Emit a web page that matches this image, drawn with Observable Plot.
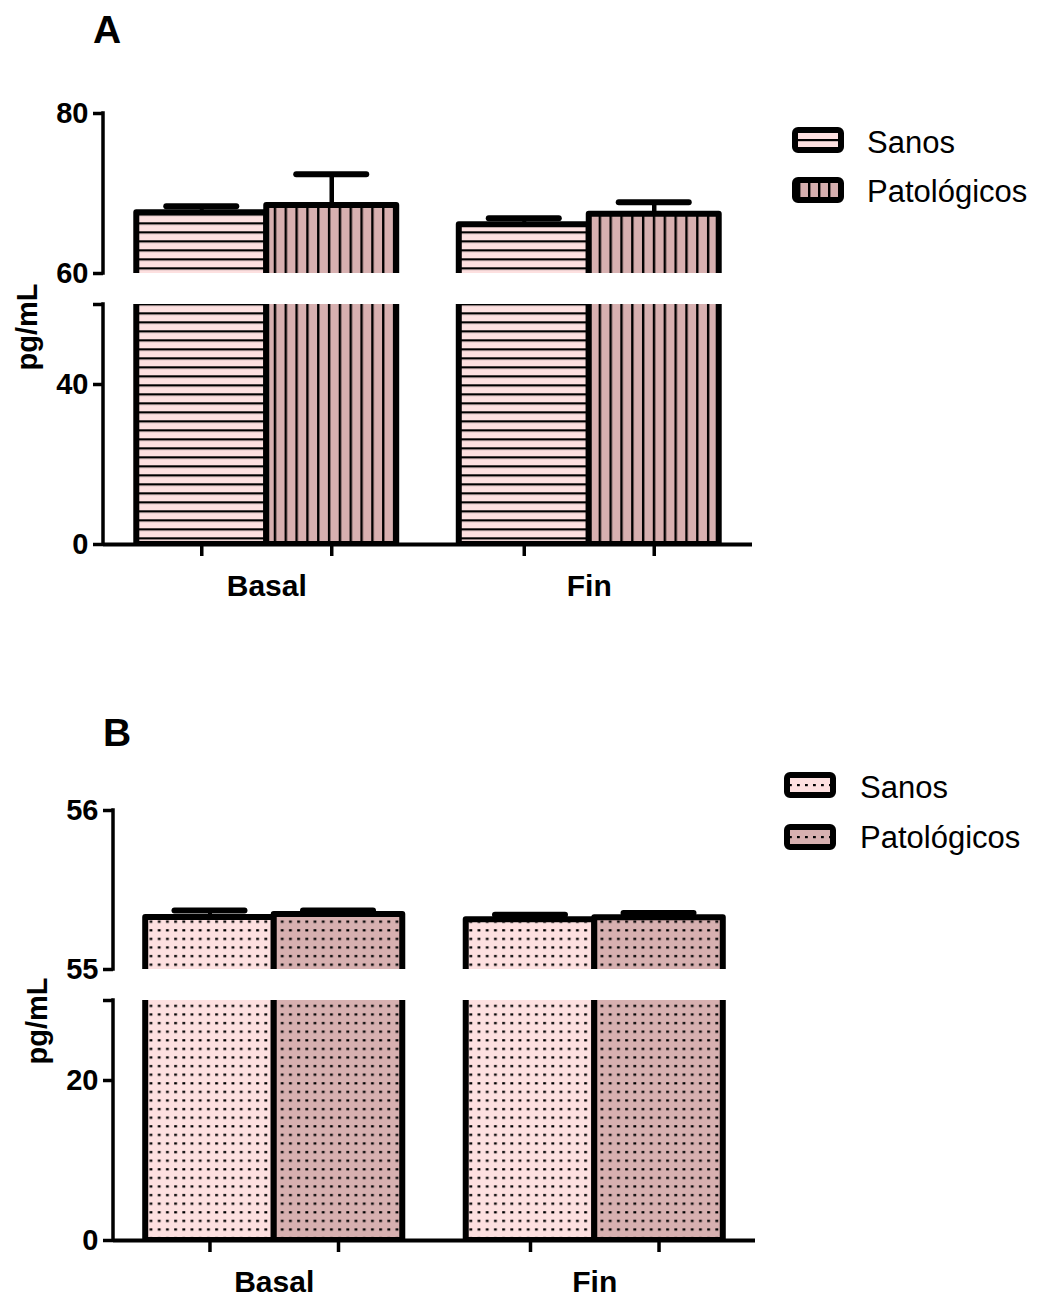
<!DOCTYPE html>
<html>
<head>
<meta charset="utf-8">
<script src="https://cdn.jsdelivr.net/npm/d3@7"></script>
<script src="https://cdn.jsdelivr.net/npm/@observablehq/plot@0.6"></script>
<style>
  body { margin: 0; background: #fff; }
  #root { position: relative; width: 1037px; height: 1297px; overflow: hidden; font-family: "Liberation Sans", Arial, sans-serif; color: #000; }
  .abs { position: absolute; }
  .title { font-weight: bold; font-size: 39px; line-height: 1; }
  .ylab { font-weight: bold; font-size: 29px; line-height: 1; white-space: nowrap; transform: translate(-50%, -50%) rotate(-90deg); }
  .legtxt { font-size: 31px; line-height: 1; white-space: nowrap; }
</style>
</head>
<body>
<div id="root"></div>
<script>
// ---------------- data ----------------
const groups = ["Basal", "Fin"];
const series = ["Sanos", "Patológicos"];

// Panel A (pg/mL), broken axis 0–60 / 60–80
const aSanos = [67.6, 66.1];
const aSanosErr = [0.8, 0.8];
const aPat = [68.5, 67.4];
const aPatErr = [3.9, 1.5];
const aUpperTicks = [60, 80];
const aLowerTicks = [0, 40, 60];
const aLowerLabeled = [0, 40];

// Panel B (pg/mL), broken axis 0–30 / 55–56
const bSanos = [55.327, 55.313];
const bSanosErr = [0.044, 0.031];
const bPat = [55.346, 55.325];
const bPatErr = [0.025, 0.031];
const bUpperTicks = [55, 56];
const bLowerTicks = [0, 20, 30];
const bLowerLabeled = [0, 20];

const panelTitles = ["A", "B"];
const yLabel = "pg/mL";

// ---------------- colours / patterns ----------------
const lightPink = "#fde0e0";
const darkPink = "#d7b0b0";
const root = document.getElementById("root");
const NS = "http://www.w3.org/2000/svg";

const defs = document.createElementNS(NS, "svg");
defs.setAttribute("width", 0);
defs.setAttribute("height", 0);
defs.style.position = "absolute";
defs.innerHTML = `
<defs>
  <pattern id="hLines" patternUnits="userSpaceOnUse" width="20" height="9" y="-1.7">
    <rect width="20" height="9" fill="${lightPink}"/>
    <rect y="0" width="20" height="2.2" fill="#000"/>
  </pattern>
  <pattern id="vLines" patternUnits="userSpaceOnUse" width="10.83" height="20" x="3">
    <rect width="10.83" height="20" fill="${darkPink}"/>
    <rect x="0" width="2.4" height="20" fill="#000"/>
  </pattern>
  <pattern id="dotsLight" patternUnits="userSpaceOnUse" width="8.2" height="8.6">
    <rect width="8.2" height="8.6" fill="${lightPink}"/>
    <rect x="2" y="3" width="2.8" height="2.2" fill="#000"/>
  </pattern>
  <pattern id="dotsDark" patternUnits="userSpaceOnUse" width="8.2" height="8.6">
    <rect width="8.2" height="8.6" fill="${darkPink}"/>
    <rect x="2" y="3" width="2.8" height="2.2" fill="#000"/>
  </pattern>
  <pattern id="legH" patternUnits="userSpaceOnUse" width="52" height="26">
    <rect width="52" height="26" fill="${lightPink}"/>
    <rect y="12" width="52" height="2.2" fill="#000"/>
  </pattern>
  <pattern id="legV" patternUnits="userSpaceOnUse" width="10" height="26" x="6">
    <rect width="10" height="26" fill="${darkPink}"/>
    <rect x="0" width="2.4" height="26" fill="#000"/>
  </pattern>
  <pattern id="legDL" patternUnits="userSpaceOnUse" width="8" height="26" x="2">
    <rect width="8" height="26" fill="${lightPink}"/>
    <rect x="3" y="12" width="2.8" height="2.2" fill="#000"/>
  </pattern>
  <pattern id="legDD" patternUnits="userSpaceOnUse" width="8" height="26" x="2">
    <rect width="8" height="26" fill="${darkPink}"/>
    <rect x="3" y="12" width="2.8" height="2.2" fill="#000"/>
  </pattern>
</defs>`;
root.appendChild(defs);

// ---------------- plot builder ----------------
const W = 1037;
const svgStyle = "background: transparent; overflow: visible; font-family: 'Liberation Sans', Arial, sans-serif; font-size: 28px; font-weight: bold;";

function yAxisLine(domain) {
  return (index, scales, values, dims) => {
    const l = document.createElementNS(NS, "line");
    l.setAttribute("x1", dims.marginLeft);
    l.setAttribute("x2", dims.marginLeft);
    l.setAttribute("y1", scales.y(domain[0]));
    l.setAttribute("y2", scales.y(domain[1]));
    l.setAttribute("stroke", "black");
    l.setAttribute("stroke-width", 3.5);
    l.setAttribute("stroke-linecap", "square");
    return l;
  };
}

function panelPlot(cfg) {
  const {top, height, marginTop, marginBottom, domain, ticks, labeled, left, right, p, q,
         sanos, sanosErr, pat, patErr, fills, upper} = cfg;
  const step = (right - left) / (2 - p + 2 * q);
  const bw = step * (1 - p);
  const capHalf = 35;
  const rowsS = groups.map((g, i) => ({g, s: series[0], v: sanos[i], e: sanosErr[i]}));
  const rowsP = groups.map((g, i) => ({g, s: series[1], v: pat[i], e: patErr[i]}));

  const marks = [
    Plot.barY(rowsS, {x: "g", y1: () => 0, y2: "v", fill: fills[0], stroke: "black", strokeWidth: 6,
      strokeLinejoin: "round", insetLeft: 0, insetRight: bw / 2, clip: true}),
    Plot.barY(rowsP, {x: "g", y1: () => 0, y2: "v", fill: fills[1], stroke: "black", strokeWidth: 6,
      strokeLinejoin: "round", insetLeft: bw / 2, insetRight: 0, clip: true})
  ];
  if (upper) {
    marks.push(
      Plot.ruleX(rowsS, {x: "g", y1: "v", y2: d => d.v + d.e, dx: -bw / 4, stroke: "black", strokeWidth: 4}),
      Plot.ruleX(rowsP, {x: "g", y1: "v", y2: d => d.v + d.e, dx: bw / 4, stroke: "black", strokeWidth: 4.5}),
      Plot.tickY(rowsS, {x: "g", y: d => d.v + d.e, insetLeft: bw / 4 - capHalf, insetRight: 3 * bw / 4 - capHalf,
        stroke: "black", strokeWidth: 6, strokeLinecap: "round"}),
      Plot.tickY(rowsP, {x: "g", y: d => d.v + d.e, insetLeft: 3 * bw / 4 - capHalf, insetRight: bw / 4 - capHalf,
        stroke: "black", strokeWidth: 6, strokeLinecap: "round"})
    );
  }
  marks.push(
    yAxisLine(domain),
    Plot.axisY({ticks, tickSize: 10, tickPadding: 5, strokeWidth: 3.5, fontSize: 29,
      tickFormat: d => labeled.includes(d) ? String(d) : "", label: null})
  );
  if (!upper) {
    marks.push(
      Plot.ruleY([0], {stroke: "black", strokeWidth: 4}),
      Plot.axisX({tickSize: 12, strokeWidth: 3.5, dx: -bw / 4, tickFormat: () => "", label: null}),
      Plot.axisX({tickSize: 12, strokeWidth: 3.5, dx: bw / 4, tickFormat: () => "", label: null}),
      Plot.axisX({tickSize: 0, tickPadding: 30, fontSize: 30, label: null})
    );
  }
  const svg = Plot.plot({
    width: W,
    height,
    marginTop,
    marginBottom,
    marginLeft: left,
    marginRight: W - right,
    style: svgStyle,
    x: {type: "band", domain: groups, paddingInner: p, paddingOuter: q, round: false, axis: null},
    y: {domain, axis: null},
    marks
  });
  svg.classList.add("abs");
  svg.style.left = "0px";
  svg.style.top = top + "px";
  root.appendChild(svg);
}

// Panel A
const A = {left: 103, right: 752, p: 0.194, q: 0.1032, sanos: aSanos, sanosErr: aSanosErr, pat: aPat, patErr: aPatErr,
           fills: ["url(#hLines)", "url(#vLines)"]};
panelPlot({...A, top: 80, height: 210, marginTop: 33, marginBottom: 17, domain: [60, 80],
           ticks: aUpperTicks, labeled: aUpperTicks, upper: true});
panelPlot({...A, top: 278, height: 332, marginTop: 26, marginBottom: 66, domain: [0, 60],
           ticks: aLowerTicks, labeled: aLowerLabeled, upper: false});

// Panel B
const B = {left: 113, right: 755, p: 0.198, q: 0.1005, sanos: bSanos, sanosErr: bSanosErr, pat: bPat, patErr: bPatErr,
           fills: ["url(#dotsLight)", "url(#dotsDark)"]};
panelPlot({...B, top: 780, height: 206, marginTop: 30, marginBottom: 17, domain: [55, 56],
           ticks: bUpperTicks, labeled: bUpperTicks, upper: true});
panelPlot({...B, top: 976, height: 321, marginTop: 24, marginBottom: 57, domain: [0, 30],
           ticks: bLowerTicks, labeled: bLowerLabeled, upper: false});

// ---------------- titles, y labels, legends ----------------
function addDiv(cls, text, left, top) {
  const d = document.createElement("div");
  d.className = "abs " + cls;
  d.textContent = text;
  d.style.left = left + "px";
  d.style.top = top + "px";
  root.appendChild(d);
  return d;
}
addDiv("title", panelTitles[0], 93, 10);
addDiv("title", panelTitles[1], 103, 713);
addDiv("ylab", yLabel, 27, 327);
addDiv("ylab", yLabel, 37, 1021);

function swatch(left, top, fillId) {
  const s = document.createElementNS(NS, "svg");
  s.setAttribute("width", 52);
  s.setAttribute("height", 26);
  s.setAttribute("class", "abs");
  s.style.left = left + "px";
  s.style.top = top + "px";
  s.innerHTML = `<rect x="3" y="3" width="46" height="20" rx="3" ry="3" fill="url(#${fillId})" stroke="black" stroke-width="6"/>`;
  root.appendChild(s);
}
const legendA = [["legH", 127, 142], ["legV", 177, 191]];
legendA.forEach(([id, sy, ty], i) => {
  swatch(792, sy, id);
  addDiv("legtxt", series[i], 867, ty - 15);
});
const legendB = [["legDL", 772, 787], ["legDD", 824, 837]];
legendB.forEach(([id, sy, ty], i) => {
  swatch(784, sy, id);
  addDiv("legtxt", series[i], 860, ty - 15);
});
</script>
</body>
</html>
